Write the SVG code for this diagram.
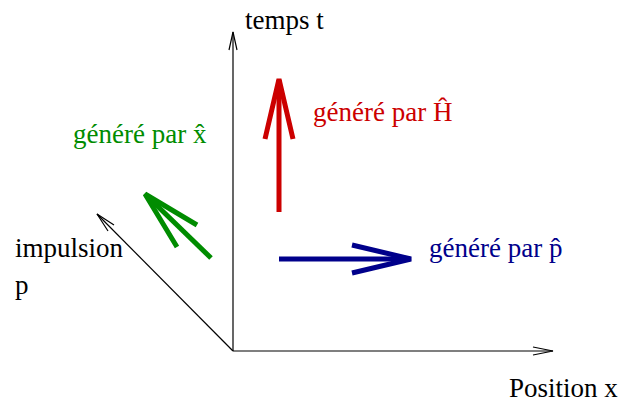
<svg xmlns="http://www.w3.org/2000/svg" width="620" height="406" viewBox="0 0 620 406">
<style>
text { font-family: "Liberation Serif", "Times New Roman", serif; font-size: 27px; }
.axis { fill: none; stroke: #000; stroke-width: 1.2; }
.thick { fill: none; stroke-width: 5; stroke-linecap: butt; stroke-linejoin: miter; }
.red { stroke: #cc0000; }
.green { stroke: #008c00; }
.blue { stroke: #00008b; }
.tred { fill: #cc0000; }
.tgreen { fill: #008c00; }
.tblue { fill: #00008b; }
</style>
<rect width="620" height="406" fill="#fff"/>
<g id="connectors">
  <g id="axis-t">
    <path class="axis" d="M233,351 L233,32"/>
    <path class="axis" d="M229,50 L233,32 L237,50"/>
  </g>
  <g id="axis-x">
    <path class="axis" d="M233,351 L553,351"/>
    <path class="axis" d="M533,347 L553,351 L533,355"/>
  </g>
  <g id="axis-p">
    <path class="axis" d="M233,351 L97,214"/>
    <path class="axis" d="M108,231 L97,214 L114,225"/>
  </g>
  <g id="arrow-H">
    <path class="thick red" d="M279,212 L279,80"/>
    <path class="thick red" d="M265,139 L279,79 L293,139"/>
  </g>
  <g id="arrow-p">
    <path class="thick blue" d="M279,259 L410,259"/>
    <path class="thick blue" d="M352,245 L411,259 L352,273"/>
  </g>
  <g id="arrow-x">
    <path class="thick green" d="M211,258 L146,195"/>
    <path class="thick green" d="M197,225 L145,194 L177,247"/>
  </g>
</g>
<g id="label-t"><text x="245" y="29">temps t</text></g>
<g id="label-x"><text x="509" y="397">Position x</text></g>
<g id="label-p">
  <text x="15" y="257">impulsion</text>
  <text x="15" y="294">p</text>
</g>
<g id="label-H">
  <text class="tred" x="313" y="121">généré par Ĥ</text>
</g>
<g id="label-xhat">
  <text class="tgreen" x="73" y="143">généré par x̂</text>
</g>
<g id="label-phat">
  <text class="tblue" x="429" y="257">généré par p̂</text>
</g>
</svg>
